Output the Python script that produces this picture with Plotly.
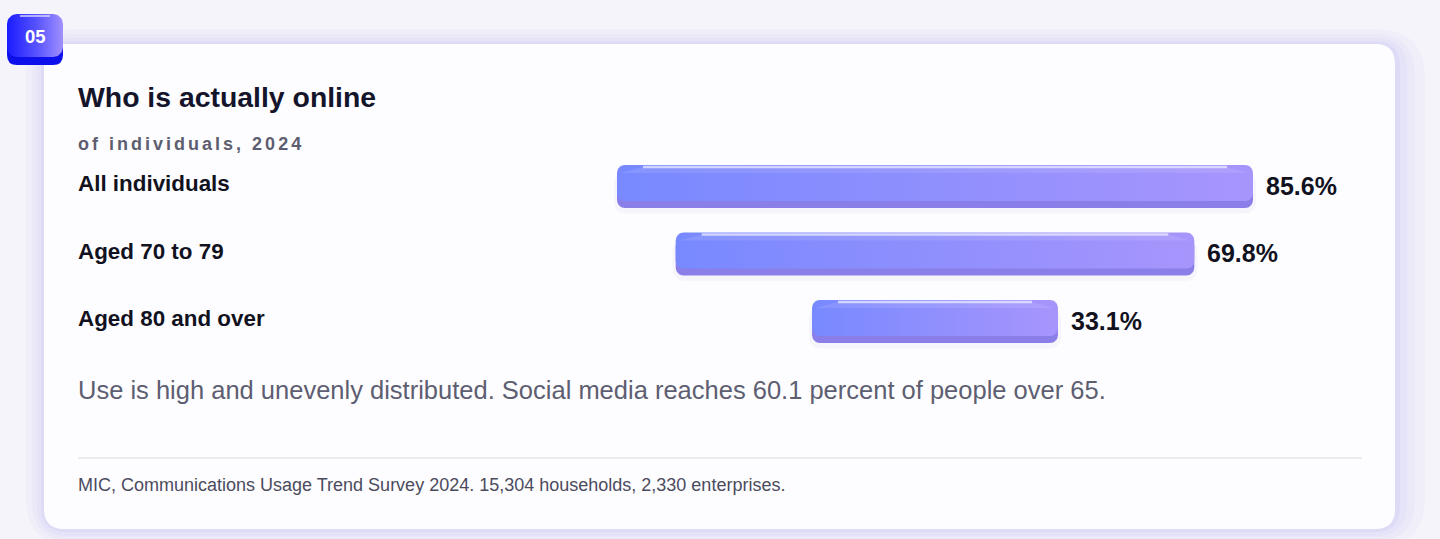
import math
import plotly.graph_objects as go

W, H = 1440, 539

# data
categories = ["All individuals", "Aged 70 to 79", "Aged 80 and over"]
shares = [85.6, 69.8, 33.1]
value_labels = ["85.6%", "69.8%", "33.1%"]

title = "Who is actually online"
subtitle = "of individuals, 2024"
note = "Use is high and unevenly distributed. Social media reaches 60.1 percent of people over 65."
source = "MIC, Communications Usage Trend Survey 2024. 15,304 households, 2,330 enterprises."
badge = "05"

FONT = "Liberation Sans, Arial, Helvetica, sans-serif"

# axis scale: pixels per percent and per row
PX_X = 7.43
PX_ROW = 67.5
CX = 935          # pixel of bar centre line
ROW0 = 186.5      # pixel of first row centre

x_range = [-CX / PX_X, (W - CX) / PX_X]
y_range = [(H - ROW0) / PX_ROW, -ROW0 / PX_ROW]


def px(x):
    return x / W


def py(y):
    return 1 - y / H


def rrect(x0, x1, y0, y1, rx, ry, n=8):
    # closed rounded rectangle outline
    pts = []
    corners = [
        (x1 - rx, y0 + ry, -90, 0),
        (x1 - rx, y1 - ry, 0, 90),
        (x0 + rx, y1 - ry, 90, 180),
        (x0 + rx, y0 + ry, 180, 270),
    ]
    for cx, cy, a0, a1 in corners:
        for k in range(n + 1):
            a = math.radians(a0 + (a1 - a0) * k / n)
            pts.append((cx + rx * math.cos(a), cy + ry * math.sin(a)))
    pts.append(pts[0])
    return [p[0] for p in pts], [p[1] for p in pts]


def shape_rrect(x0, y0, x1, y1, r, color):
    d = (
        f"M {px(x0 + r)},{py(y0)} L {px(x1 - r)},{py(y0)} "
        f"Q {px(x1)},{py(y0)} {px(x1)},{py(y0 + r)} L {px(x1)},{py(y1 - r)} "
        f"Q {px(x1)},{py(y1)} {px(x1 - r)},{py(y1)} L {px(x0 + r)},{py(y1)} "
        f"Q {px(x0)},{py(y1)} {px(x0)},{py(y1 - r)} L {px(x0)},{py(y0 + r)} "
        f"Q {px(x0)},{py(y0)} {px(x0 + r)},{py(y0)} Z"
    )
    return dict(type="path", path=d, xref="paper", yref="paper", layer="below",
                fillcolor=color, line=dict(width=0))


fig = go.Figure()

rows = list(range(len(categories)))
rx = 8 / PX_X
ry = 8 / PX_ROW

for r, v in zip(rows, shares):
    # soft shadow under the bar
    xs, ys = rrect(-v / 2 - 3 / PX_X, v / 2 + 3 / PX_X, r - 14 / PX_ROW, r + 27 / PX_ROW,
                   11 / PX_X, 11 / PX_ROW)
    fig.add_trace(go.Scatter(x=xs, y=ys, mode="lines", fill="toself",
                             line=dict(width=0), fillcolor="rgba(110,100,200,0.05)",
                             hoverinfo="skip", showlegend=False))
    # darker bottom edge
    xs, ys = rrect(-v / 2, v / 2, r - 16 / PX_ROW, r + 21.5 / PX_ROW, rx, ry)
    fig.add_trace(go.Scatter(x=xs, y=ys, mode="lines", fill="toself",
                             line=dict(width=0), fillcolor="#8a7fe8",
                             hoverinfo="skip", showlegend=False))
    # gradient top face
    xs, ys = rrect(-v / 2, v / 2, r + (165 - ROW0) / PX_ROW, r + (201 - ROW0) / PX_ROW, rx, ry)
    fig.add_trace(go.Scatter(
        x=xs, y=ys, mode="lines", fill="toself",
        line=dict(width=0, color="rgba(0,0,0,0)"),
        fillgradient=dict(type="horizontal",
                          colorscale=[[0, "#7889ff"], [1, "#a795fc"]]),
        hoverinfo="skip", showlegend=False,
    ))
    # bevel band and highlight along the top
    band_y0 = r + (167 - ROW0) / PX_ROW
    band_y1 = r + (173 - ROW0) / PX_ROW
    fig.add_trace(go.Scatter(
        x=[-v / 2 + 4 / PX_X, -v / 2 + 26 / PX_X, v / 2 - 26 / PX_X, v / 2 - 4 / PX_X, -v / 2 + 4 / PX_X],
        y=[band_y1, band_y0, band_y0, band_y1, band_y1],
        mode="lines", fill="toself", line=dict(width=0),
        fillcolor="rgba(255,255,255,0.10)",
        hoverinfo="skip", showlegend=False,
    ))
    fig.add_trace(go.Scatter(
        x=[-v / 2 + 26 / PX_X, v / 2 - 26 / PX_X],
        y=[band_y0, band_y0],
        mode="lines", line=dict(width=2.5, color="rgba(235,236,255,0.75)"),
        hoverinfo="skip", showlegend=False,
    ))

# badge face with gradient, on a pixel axis pair
bx = rrect(7, 63, 14, 57, 10, 10)
fig.add_trace(go.Scatter(
    x=bx[0], y=bx[1], xaxis="x2", yaxis="y2", mode="lines", fill="toself",
    line=dict(width=0, color="rgba(0,0,0,0)"),
    fillgradient=dict(type="horizontal",
                      colorscale=[[0, "#1a1cff"], [0.55, "#5a55ff"], [1, "#a190ff"]]),
    hoverinfo="skip", showlegend=False,
))
fig.add_trace(go.Scatter(
    x=[20, 50], y=[16, 16], xaxis="x2", yaxis="y2", mode="lines",
    line=dict(width=2, color="rgba(220,220,255,0.7)"),
    hoverinfo="skip", showlegend=False,
))

shapes = []
# card glow / shadow
for grow, alpha in [(30, 0.03), (20, 0.04), (12, 0.05), (5, 0.06)]:
    shapes.append(shape_rrect(44 - grow * 0.6, 44 - grow * 0.5, 1395 + grow, 529 + grow * 0.6,
                              20 + grow, f"rgba(120,110,235,{alpha})"))
shapes.append(shape_rrect(44, 44, 1395, 529, 20, "#fdfdff"))
# badge base
shapes.append(shape_rrect(7, 20, 63, 65, 10, "#0d10ea"))
# divider
shapes.append(dict(type="line", xref="paper", yref="paper", layer="below",
                   x0=px(78), x1=px(1362), y0=py(458), y1=py(458),
                   line=dict(color="#e3e3ea", width=1.5)))

spaced = "\u200a\u200a".join(subtitle)

annotations = [
    dict(text=f"<b>{title}</b>", x=px(76), y=py(97), font=dict(size=28.4, color="#14142b")),
    dict(text=f"<b>{spaced}</b>", x=px(76), y=py(144), font=dict(size=18, color="#5d5d70")),
    dict(text=note, x=px(76), y=py(390), font=dict(size=25.5, color="#5e5e72")),
    dict(text=source, x=px(76), y=py(485), font=dict(size=18, color="#4b4b5d")),
]
for a in annotations:
    a.update(xref="paper", yref="paper", xanchor="left", yanchor="middle", showarrow=False)

for r, name, v, lab in zip(rows, categories, shares, value_labels):
    annotations.append(dict(text=f"<b>{name}</b>", xref="paper", yref="y", x=px(76),
                            y=r - 3 / PX_ROW, xanchor="left", yanchor="middle",
                            showarrow=False, font=dict(size=22.4, color="#12121f")))
    annotations.append(dict(text=f"<b>{lab}</b>", xref="x", yref="y", x=v / 2,
                            y=r - 1 / PX_ROW, xshift=11, xanchor="left", yanchor="middle",
                            showarrow=False, font=dict(size=25, color="#12121f")))

annotations.append(dict(text=f"<b>{badge}</b>", xref="paper", yref="paper", x=px(35), y=py(37),
                        xanchor="center", yanchor="middle", showarrow=False,
                        font=dict(size=18.5, color="#ffffff")))

fig.update_layout(
    width=W, height=H,
    margin=dict(l=0, r=0, t=0, b=0),
    paper_bgcolor="#f4f4fa",
    plot_bgcolor="rgba(0,0,0,0)",
    font=dict(family=FONT),
    showlegend=False,
    xaxis=dict(range=x_range, visible=False, fixedrange=True),
    yaxis=dict(range=y_range, visible=False, fixedrange=True),
    xaxis2=dict(range=[0, W], visible=False, overlaying="x", fixedrange=True),
    yaxis2=dict(range=[H, 0], visible=False, overlaying="y", fixedrange=True),
    shapes=shapes,
    annotations=annotations,
)

fig.write_html("out.html", config={"displayModeBar": False},
               post_script="document.body.style.margin='0';document.body.style.overflow='hidden';")
